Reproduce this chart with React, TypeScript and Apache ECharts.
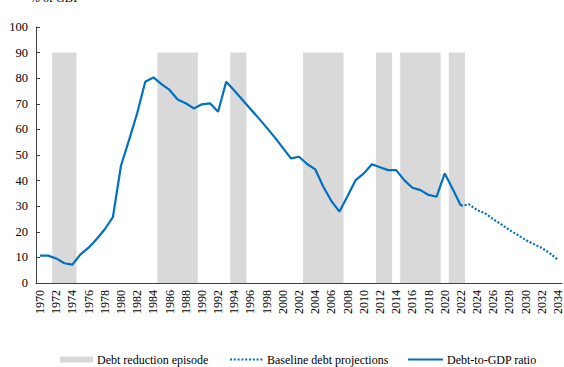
import React, { useEffect, useRef } from "react";
import * as echarts from "echarts";

const years: string[] = [
  "1970", "1971", "1972", "1973", "1974", "1975", "1976", "1977", "1978", "1979",
  "1980", "1981", "1982", "1983", "1984", "1985", "1986", "1987", "1988", "1989",
  "1990", "1991", "1992", "1993", "1994", "1995", "1996", "1997", "1998", "1999",
  "2000", "2001", "2002", "2003", "2004", "2005", "2006", "2007", "2008", "2009",
  "2010", "2011", "2012", "2013", "2014", "2015", "2016", "2017", "2018", "2019",
  "2020", "2021", "2022", "2023", "2024", "2025", "2026", "2027", "2028", "2029",
  "2030", "2031", "2032", "2033", "2034",
];

// Debt-to-GDP ratio, 1970-2022
const debtRatio: number[] = [
  10.7, 10.7, 9.6, 7.7, 7.2, 11.2, 13.8, 17.2, 21.0, 25.7,
  45.8, 55.9, 66.3, 78.6, 80.3, 77.7, 75.4, 71.7, 70.2, 68.2,
  69.8, 70.2, 66.9, 78.6, 75.2, 71.6, 68.0, 64.4, 60.7, 56.9,
  52.8, 48.7, 49.3, 46.5, 44.4, 37.6, 32.0, 27.9, 34.0, 40.2,
  42.8, 46.4, 45.2, 44.1, 44.1, 40.2, 37.2, 36.3, 34.4, 33.7,
  42.8, 36.6, 30.2,
];

// Baseline debt projections, 2022-2034
const projectionStartYear = "2022";
const projection: number[] = [
  30.2, 30.7, 28.5, 27.2, 24.9, 22.9, 20.7, 18.8, 16.8, 15.2, 13.7, 11.6, 9.0,
];

// Debt reduction episodes: first and last year of each shaded episode
const episodeStarts: string[] = ["1972", "1985", "1994", "2003", "2012", "2015", "2021"];
const episodeEnds: string[] = ["1974", "1989", "1995", "2007", "2013", "2019", "2022"];
const episodeHeight = 90;

const yTicks = { min: 0, max: 100, interval: 10 };

const legendNames = ["Debt reduction episode", "Baseline debt projections", "Debt-to-GDP ratio"];

const FONT = "Liberation Serif";
const BLUE = "#0070c0";
const GREY = "#d9d9d9";

export default function App() {
  const ref = useRef<HTMLDivElement>(null);

  useEffect(() => {
    if (!ref.current) return;
    const chart = echarts.init(ref.current, undefined, { renderer: "svg" });

    const episodeData = episodeStarts.map((s, i) => [
      years.indexOf(s),
      years.indexOf(episodeEnds[i]),
      episodeHeight,
    ]);
    const lineData = years.map((_, i) => (i < debtRatio.length ? debtRatio[i] : null));
    const projStart = years.indexOf(projectionStartYear);
    const projData = years.map((_, i) =>
      i >= projStart && i - projStart < projection.length ? projection[i - projStart] : null
    );

    const legendY = 359.5;
    const legendText = (x: number, text: string) => ({
      type: "text",
      x,
      y: legendY,
      style: {
        text,
        font: `12px ${FONT}`,
        fill: "#000",
        verticalAlign: "middle",
        align: "left",
      },
    });

    chart.setOption({
      animation: false,
      backgroundColor: "#ffffff",
      textStyle: { fontFamily: FONT },
      graphic: [
        {
          type: "text",
          x: 30,
          y: -8,
          style: { text: "% of GDP", font: `12px ${FONT}`, fill: "#000" },
        },
        {
          type: "rect",
          shape: { x: 60, y: legendY - 3, width: 33, height: 6 },
          style: { fill: GREY },
        },
        legendText(97, legendNames[0]),
        {
          type: "line",
          shape: { x1: 230, y1: legendY, x2: 263, y2: legendY },
          style: { stroke: BLUE, lineWidth: 2.2, lineDash: [2, 1.8] },
        },
        legendText(267, legendNames[1]),
        {
          type: "line",
          shape: { x1: 408, y1: legendY, x2: 443, y2: legendY },
          style: { stroke: BLUE, lineWidth: 2.2 },
        },
        legendText(447, legendNames[2]),
      ],
      grid: { left: 36, top: 27, width: 529, height: 256 },
      xAxis: {
        type: "category",
        data: years,
        boundaryGap: true,
        axisLine: { lineStyle: { color: "#404040", width: 1 } },
        axisTick: { inside: true, length: 4, interval: 0, lineStyle: { color: "#404040" } },
        axisLabel: {
          interval: 1,
          rotate: 90,
          margin: 7,
          fontFamily: FONT,
          fontSize: 12,
          color: "#000",
        },
        splitLine: { show: false },
      },
      yAxis: {
        type: "value",
        min: yTicks.min,
        max: yTicks.max,
        interval: yTicks.interval,
        axisLine: { show: true, lineStyle: { color: "#404040", width: 1 } },
        axisTick: { show: true, inside: true, length: 4, lineStyle: { color: "#404040" } },
        axisLabel: { margin: 8, fontFamily: FONT, fontSize: 12.5, color: "#000" },
        splitLine: { show: false },
      },
      series: [
        {
          name: legendNames[0],
          type: "custom",
          data: episodeData,
          encode: { x: [0, 1], y: 2 },
          renderItem: (params: any, api: any) => {
            const s = api.value(0);
            const e = api.value(1);
            const h = api.value(2);
            const pTop = api.coord([s, h]);
            const pEnd = api.coord([e, 0]);
            const w = api.size([1, 0])[0];
            return {
              type: "rect",
              shape: {
                x: pTop[0] - w / 2,
                y: pTop[1],
                width: pEnd[0] - pTop[0] + w,
                height: pEnd[1] - pTop[1],
              },
              style: { fill: GREY },
            };
          },
          z: 1,
        },
        {
          name: legendNames[1],
          type: "line",
          data: projData,
          symbol: "none",
          showSymbol: false,
          lineStyle: { color: BLUE, width: 2.2, type: [2, 1.8], cap: "butt" },
          itemStyle: { color: BLUE },
          z: 3,
        },
        {
          name: legendNames[2],
          type: "line",
          data: lineData,
          symbol: "none",
          showSymbol: false,
          lineStyle: { color: BLUE, width: 2.2 },
          itemStyle: { color: BLUE },
          z: 4,
        },
      ],
    });

    return () => chart.dispose();
  }, []);

  return (
    <div
      ref={ref}
      style={{ position: "absolute", left: 0, top: 0, width: 564, height: 367 }}
    />
  );
}
